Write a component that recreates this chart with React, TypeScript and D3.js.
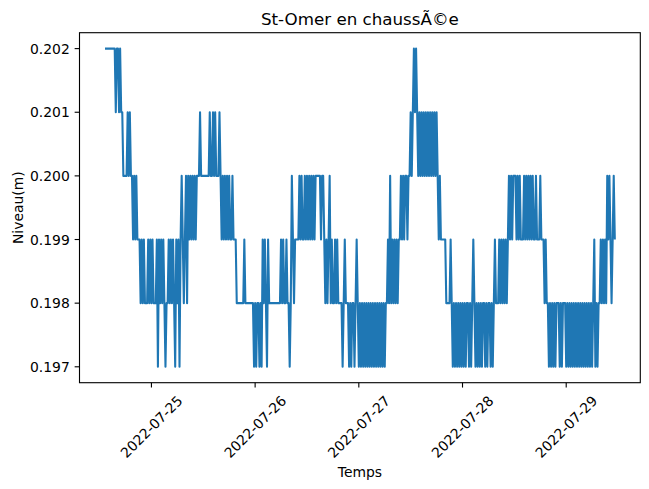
import React from 'react';
import * as d3 from 'd3';

const titre = 'St-Omer en chaussÃ©e';
const xLabel = 'Temps';
const yLabel = 'Niveau(m)';

// first reading: 2022-07-24 13:15 UTC, one reading every 15 minutes
const debutISO = '2022-07-24T13:15:00Z';
const pasMinutes = 15;

// readings (m), consecutive blocks
const serie1 = [
  0.202, 0.202, 0.202, 0.202, 0.202, 0.202, 0.202, 0.202, 0.202, 0.202,
  0.201, 0.202, 0.202, 0.201, 0.202, 0.201, 0.201, 0.2, 0.2, 0.2,
  0.2, 0.201, 0.2, 0.201, 0.2, 0.2, 0.199, 0.2, 0.199, 0.2,
  0.199, 0.199, 0.199, 0.198, 0.199, 0.198, 0.199, 0.198, 0.198, 0.198,
  0.199, 0.198, 0.199, 0.198,
];
const serie2 = [
  0.199, 0.198, 0.198, 0.198, 0.199, 0.197,
  0.199, 0.198, 0.199, 0.198, 0.199, 0.198, 0.197, 0.198, 0.198, 0.199,
  0.198, 0.199, 0.198, 0.199, 0.198, 0.197, 0.199, 0.198, 0.199, 0.197,
  0.199, 0.2, 0.199, 0.198, 0.199, 0.2, 0.198, 0.2, 0.199, 0.2,
  0.199, 0.2, 0.199, 0.2, 0.199, 0.2, 0.2, 0.2, 0.201, 0.2,
  0.2, 0.2, 0.2, 0.2, 0.2, 0.2, 0.2, 0.201, 0.2, 0.2,
  0.201, 0.2, 0.201, 0.2, 0.2, 0.2, 0.201, 0.2, 0.199, 0.2,
  0.199, 0.2, 0.199, 0.2, 0.199, 0.2, 0.199, 0.199, 0.2, 0.199,
  0.199, 0.199, 0.198, 0.198, 0.198, 0.198, 0.198, 0.198, 0.198, 0.199,
  0.198, 0.198, 0.198, 0.198, 0.198, 0.198, 0.198, 0.198, 0.197, 0.198,
];
const serie3 = [
  0.197, 0.198, 0.198, 0.197, 0.198, 0.197, 0.199, 0.198, 0.199, 0.198,
  0.197, 0.199, 0.198, 0.198, 0.198, 0.198, 0.198, 0.198, 0.198, 0.198,
  0.198, 0.198, 0.198, 0.199, 0.198, 0.199, 0.198, 0.198, 0.199, 0.198,
  0.198, 0.197, 0.198, 0.2, 0.199, 0.198, 0.199, 0.199, 0.199, 0.199,
  0.2, 0.199, 0.2, 0.199, 0.199, 0.2, 0.199, 0.2, 0.199, 0.2,
  0.199, 0.2, 0.199, 0.2, 0.199, 0.2, 0.2, 0.2, 0.2, 0.2,
  0.199, 0.2, 0.2, 0.199, 0.198, 0.199, 0.198, 0.199, 0.2, 0.198,
  0.199, 0.198, 0.198, 0.199, 0.198, 0.199, 0.198, 0.198, 0.198, 0.198,
  0.197, 0.198, 0.199, 0.198, 0.198, 0.198, 0.197, 0.198, 0.197, 0.198,
  0.198, 0.197, 0.198, 0.199, 0.198, 0.197,
];
const serie4 = [
  0.198, 0.197, 0.198, 0.197,
  0.198, 0.197, 0.198, 0.197, 0.198, 0.197, 0.198, 0.197, 0.198, 0.197,
  0.198, 0.197, 0.198, 0.197, 0.198, 0.197, 0.198, 0.197, 0.198, 0.197,
  0.198, 0.198, 0.199, 0.198, 0.2, 0.198, 0.199, 0.198, 0.199, 0.198,
  0.199, 0.198, 0.199, 0.199, 0.2, 0.199, 0.2, 0.199, 0.2, 0.2,
  0.199, 0.2, 0.2, 0.201, 0.2, 0.201, 0.202, 0.201, 0.202, 0.201,
  0.2, 0.201, 0.2, 0.201, 0.2, 0.201, 0.2, 0.201, 0.2, 0.201,
  0.2, 0.201, 0.2, 0.201, 0.2, 0.201, 0.2, 0.201, 0.2, 0.199,
  0.2, 0.199, 0.199, 0.199, 0.199, 0.199, 0.198, 0.198, 0.198, 0.198,
  0.199, 0.198, 0.197, 0.198, 0.197, 0.198, 0.197, 0.198, 0.197, 0.198,
  0.197, 0.198,
];
const serie5 = [
  0.197, 0.198, 0.197, 0.198, 0.198, 0.197, 0.198, 0.197,
  0.198, 0.199, 0.198, 0.197, 0.198, 0.197, 0.198, 0.197, 0.198, 0.197,
  0.198, 0.198, 0.197, 0.198, 0.197, 0.198, 0.198, 0.197, 0.198, 0.197,
  0.198, 0.199, 0.198, 0.198, 0.198, 0.199, 0.198, 0.199, 0.198, 0.199,
  0.198, 0.199, 0.198, 0.199, 0.2, 0.199, 0.2, 0.199, 0.2, 0.2,
  0.2, 0.199, 0.2, 0.199, 0.2, 0.199, 0.199, 0.199, 0.2, 0.199,
  0.2, 0.199, 0.2, 0.199, 0.2, 0.199, 0.2, 0.199, 0.199, 0.2,
  0.199, 0.199, 0.199, 0.2, 0.199, 0.199, 0.199, 0.198, 0.199, 0.198,
  0.198, 0.197, 0.198, 0.197, 0.198, 0.197, 0.198, 0.197, 0.198, 0.198,
  0.198, 0.197, 0.198, 0.197, 0.198, 0.198, 0.198, 0.197,
];
const serie6 = [
  0.198, 0.197,
  0.198, 0.197, 0.198, 0.197, 0.198, 0.197, 0.198, 0.197, 0.198, 0.197,
  0.198, 0.197, 0.198, 0.197, 0.198, 0.197, 0.198, 0.197, 0.198, 0.197,
  0.198, 0.197, 0.198, 0.199, 0.197, 0.198, 0.197, 0.198, 0.198, 0.199,
  0.198, 0.199, 0.198, 0.199, 0.198, 0.2, 0.199, 0.2, 0.199, 0.198,
  0.199, 0.2, 0.199,
];

const yTicks = [0.197, 0.198, 0.199, 0.2, 0.201, 0.202];
const xTicks = ['2022-07-25', '2022-07-26', '2022-07-27', '2022-07-28', '2022-07-29'];

const W = 649;
const H = 489;
const FONT = 'DejaVu Sans, sans-serif';

export default function App() {
  const box = { left: 79.5, right: 640.3, top: 32.7, bottom: 382.7 };
  const values = [...serie1, ...serie2, ...serie3, ...serie4, ...serie5, ...serie6];
  const t0 = new Date(debutISO).getTime();
  const data = values.map((v, i) => ({ t: t0 + i * pasMinutes * 60000, v }));

  const [tMin, tMax] = d3.extent(data, (d) => d.t) as [number, number];
  const padT = (tMax - tMin) * 0.05;
  const x = d3.scaleUtc().domain([new Date(tMin - padT), new Date(tMax + padT)]).range([box.left, box.right]);

  const [vMin, vMax] = d3.extent(values) as [number, number];
  const padV = (vMax - vMin) * 0.05;
  const y = d3.scaleLinear().domain([vMin - padV, vMax + padV]).range([box.bottom, box.top]);

  const line = d3
    .line<{ t: number; v: number }>()
    .x((d) => x(new Date(d.t)))
    .y((d) => y(d.v));

  const fmt = d3.format('.3f');
  const tickLen = 4.86;
  const pad = 4.86;
  const fs = 13.9;
  const cx = (box.left + box.right) / 2;
  const cy = (box.top + box.bottom) / 2;

  return (
    <svg
      width={W}
      height={H}
      style={{ position: 'absolute', left: 0, top: 0, background: '#fff' }}
      fontFamily={FONT}
    >
      <rect x={0} y={0} width={W} height={H} fill="#fff" />
      <defs>
        <clipPath id="plotclip">
          <rect x={box.left} y={box.top} width={box.right - box.left} height={box.bottom - box.top} />
        </clipPath>
      </defs>
      <text x={cx} y={24.5} textAnchor="middle" fontSize={16.7} fill="#000">
        {titre}
      </text>
      <path
        d={line(data) || ''}
        fill="none"
        stroke="#1f77b4"
        strokeWidth={2.08}
        strokeLinejoin="round"
        clipPath="url(#plotclip)"
      />
      <rect
        x={box.left}
        y={box.top}
        width={box.right - box.left}
        height={box.bottom - box.top}
        fill="none"
        stroke="#000"
        strokeWidth={1.11}
      />
      {yTicks.map((v) => (
        <g key={'y' + v}>
          <line x1={box.left - tickLen} x2={box.left} y1={y(v)} y2={y(v)} stroke="#000" strokeWidth={1.11} />
          <text
            x={box.left - tickLen - pad}
            y={y(v)}
            textAnchor="end"
            dominantBaseline="central"
            fontSize={fs}
            fill="#000"
          >
            {fmt(v)}
          </text>
        </g>
      ))}
      {xTicks.map((s) => {
        const px = x(new Date(s + 'T00:00:00Z'));
        return (
          <g key={s}>
            <line x1={px} x2={px} y1={box.bottom} y2={box.bottom + tickLen} stroke="#000" strokeWidth={1.11} />
            <text
              transform={`translate(${px},${box.bottom + tickLen + pad + 34.3}) rotate(-45)`}
              textAnchor="middle"
              dominantBaseline="central"
              fontSize={fs}
              fill="#000"
            >
              {s}
            </text>
          </g>
        );
      })}
      <text x={cx} y={477} textAnchor="middle" fontSize={fs} fill="#000">
        {xLabel}
      </text>
      <text
        transform={`translate(23,${cy}) rotate(-90)`}
        textAnchor="middle"
        fontSize={fs}
        fill="#000"
      >
        {yLabel}
      </text>
    </svg>
  );
}
